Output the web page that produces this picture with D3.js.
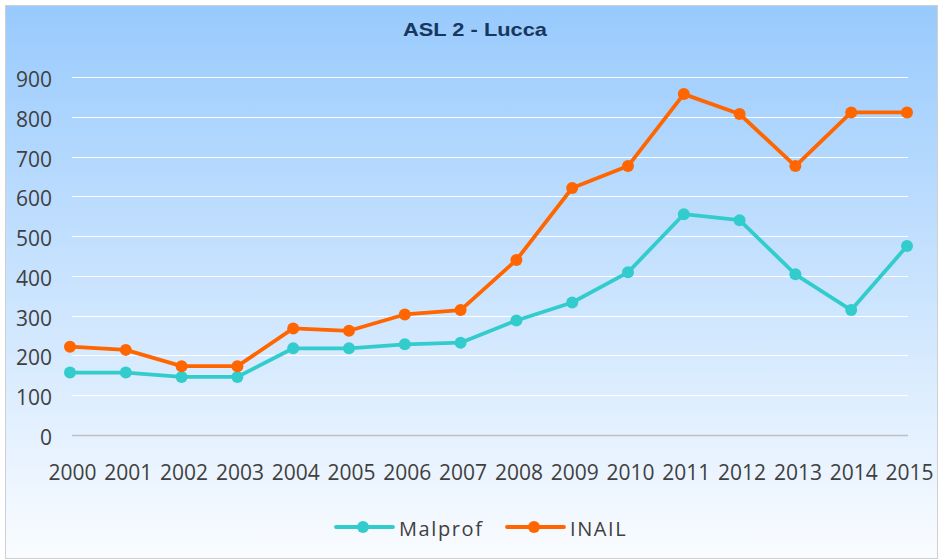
<!DOCTYPE html>
<html>
<head>
<meta charset="utf-8">
<script src="https://cdn.jsdelivr.net/npm/d3@7"></script>
<style>
  body { margin: 0; background: #fff; }
</style>
</head>
<body>
<div id="chart"></div>
<script>
// data
var years = ["2000", "2001", "2002", "2003", "2004", "2005", "2006", "2007",
    "2008", "2009", "2010", "2011", "2012", "2013", "2014", "2015"]
var malprof = [157, 157, 146, 146, 218, 218, 228, 232, 288, 333, 409, 555, 540, 404, 314, 475]
var inail = [222, 214, 173, 173, 268, 262, 303, 314, 440, 621, 676, 857, 807, 676, 811, 811]
var yTicks = [0, 100, 200, 300, 400, 500, 600, 700, 800, 900]
var seriesNames = ["Malprof", "INAIL"]

width = 939
height = 559

var svg = d3.select("#chart").append("svg")
    .attr("width", width).attr("height", height)

// gradient background
var defs = svg.append("defs")
var grad = defs.append("linearGradient").attr("id", "bg")
    .attr("x1", 0).attr("y1", 0).attr("x2", 0).attr("y2", 1)
grad.append("stop").attr("offset", "0%").attr("stop-color", "#98cafd")
grad.append("stop").attr("offset", "100%").attr("stop-color", "#fafcff")

svg.append("rect")
    .attr("x", 5.5).attr("y", 5.5)
    .attr("width", width - 7).attr("height", height - 6)
    .attr("fill", "url(#bg)")
    .attr("stroke", "#d0d0d0")

svg.append("text")
    .attr("x", 475).attr("y", 36)
    .attr("text-anchor", "middle")
    .attr("textLength", 144)
    .attr("lengthAdjust", "spacingAndGlyphs")
    .style("font-family", "Liberation Sans, Arial, sans-serif")
    .style("font-weight", "bold")
    .style("font-size", "19px")
    .attr("fill", "#17375e")
    .text("ASL 2 - Lucca")

var x = d3.scalePoint()
    .domain(years)
    .range([70, 907])

var y = d3.scaleLinear()
    .domain([0, 900])
    .range([435, 77])

// gridlines
svg.append("g")
    .selectAll("line")
    .data(yTicks.filter(d => d > 0))
    .enter()
    .append("line")
    .attr("x1", 72).attr("x2", 908)
    .attr("y1", d => Math.round(y(d)) + 0.5)
    .attr("y2", d => Math.round(y(d)) + 0.5)
    .attr("stroke", "#ffffff")
    .attr("stroke-width", 1)

// y axis labels
var yAxis = svg.append("g")
    .attr("transform", "translate(60,0)")
    .call(d3.axisLeft(y).tickValues(yTicks).tickSize(0).tickPadding(8))
yAxis.select(".domain").remove()
yAxis.selectAll("text")
    .attr("dy", "0.45em")
    .style("font-family", "Open Sans, sans-serif")
    .style("font-size", "21px")
    .attr("fill", "#404040")

// x axis line and labels
var xAxis = svg.append("g")
    .attr("transform", "translate(0," + y(0) + ")")
    .call(d3.axisBottom(x).tickSize(0).tickPadding(30))
xAxis.select(".domain")
    .attr("d", "M72,0.5H908")
    .attr("stroke", "#bfbfbf")
    .attr("stroke-width", 1.5)
xAxis.selectAll("text")
    .attr("x", 2)
    .style("font-family", "Open Sans, sans-serif")
    .style("font-size", "21px")
    .attr("fill", "#404040")

var colors = { "Malprof": "#33cccc", "INAIL": "#ff6600" }
var seriesData = { "Malprof": malprof, "INAIL": inail }

var line = d3.line()
    .x(function (d, i) { return x(years[i]) })
    .y(function (d) { return y(d) })

seriesNames.forEach(function (name) {
    var g = svg.append("g")
    g.append("path")
        .datum(seriesData[name])
        .attr("fill", "none")
        .attr("stroke", colors[name])
        .attr("stroke-width", 3.8)
        .attr("stroke-linejoin", "round")
        .attr("d", line)
    g.selectAll("circle")
        .data(seriesData[name])
        .enter()
        .append("circle")
        .attr("cx", function (d, i) { return x(years[i]) })
        .attr("cy", d => y(d))
        .attr("r", 6)
        .attr("fill", colors[name])
})

// legend
var legendX = [336, 507]
seriesNames.forEach(function (name, i) {
    var lg = svg.append("g").attr("transform", "translate(" + legendX[i] + ",527)")
    lg.append("line")
        .attr("x1", 0).attr("x2", 57)
        .attr("stroke", colors[name])
        .attr("stroke-width", 3.8)
        .attr("stroke-linecap", "round")
    lg.append("circle")
        .attr("cx", 27).attr("r", 6)
        .attr("fill", colors[name])
    lg.append("text")
        .attr("x", 63).attr("y", 9)
        .style("font-family", "Open Sans, sans-serif")
        .style("font-size", "20px")
        .style("letter-spacing", "1.6px")
        .attr("fill", "#404040")
        .text(name)
})
</script>
</body>
</html>
